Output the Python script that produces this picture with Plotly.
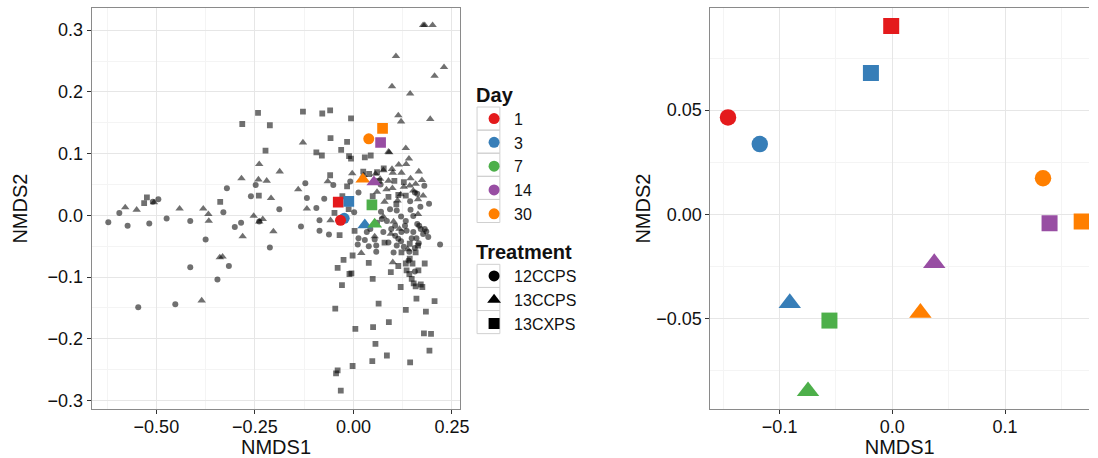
import plotly.graph_objects as go

# ---------------- data ----------------
DAYS = ["1", "3", "7", "14", "30"]
DAY_COLORS = ["#E41A1C", "#377EB8", "#4DAF4A", "#984EA3", "#FF7F00"]
TREATMENTS = ["12CCPS", "13CCPS", "13CXPS"]
TRT_SYMBOLS = ["circle", "triangle-up", "square"]

# individual samples (left panel), grey points
circ_x = [-0.622, -0.594, -0.573, -0.546, -0.518, -0.509, -0.495, -0.474, -0.452, -0.414, -0.414, -0.375,
          -0.345, -0.330, -0.321, -0.316, -0.301, -0.285, -0.260, -0.248, -0.239, -0.212, -0.188, -0.133,
          -0.122, -0.118, -0.094, -0.086, -0.086, -0.074, -0.062, -0.051, -0.008, 0.013, 0.002, 0.069,
          0.180, 0.156, 0.162, 0.144, 0.192, 0.170, 0.070, 0.093, 0.110, 0.121, 0.133, 0.145, 0.162, 0.167,
          0.171, 0.185, 0.190, 0.160, 0.152, 0.135, 0.122, 0.106, 0.096, 0.085, 0.072, 0.060, 0.043, 0.034,
          0.013, 0.011, 0.029, 0.039, 0.054, 0.058, 0.058, 0.089, 0.102, 0.110, 0.121, 0.128, 0.142, 0.156,
          0.166, 0.220, 0.106, 0.131, 0.152, 0.181, 0.148, 0.114, 0.177, 0.076, 0.140, 0.156]
circ_y = [-0.011, 0.004, -0.017, -0.149, -0.013, 0.022, 0.026, -0.005, -0.144, -0.009, -0.084, -0.039,
          -0.104, 0.005, 0.044, -0.082, -0.019, -0.012, 0.031, 0.049, -0.010, -0.052, 0.010, -0.018,
          0.052, 0.028, 0.012, -0.008, -0.025, 0.027, -0.031, 0.049, 0.055, 0.037, 0.005, 0.050,
          0.048, 0.037, 0.035, 0.023, 0.019, 0.014, 0.006, 0.010, 0.008, -0.002, -0.009, 0.009, -0.014, -0.017,
          -0.022, -0.026, -0.035, -0.037, -0.027, -0.025, -0.027, -0.033, -0.022, -0.009, -0.006, -0.012, -0.022, -0.027,
          -0.037, -0.047, -0.040, -0.050, -0.039, -0.049, -0.059, -0.044, -0.060, -0.049, -0.042, -0.051, -0.059, -0.053,
          -0.045, -0.047, -0.017, -0.017, -0.001, -0.022, -0.037, -0.038, -0.030, -0.027, -0.073, -0.091]

tri_x = [-0.579, -0.550, -0.506, -0.441, -0.381, -0.368, -0.367, -0.339, -0.332, -0.385, -0.284, -0.281,
         -0.253, -0.239, -0.241, -0.220, -0.230, -0.239, -0.209, -0.203, -0.187, -0.140, -0.128, -0.118,
         -0.065, -0.058, -0.003, 0.020, 0.177, 0.181, 0.201, 0.108, 0.230, 0.206, 0.098, 0.144, 0.114,
         0.121, 0.195, 0.133, 0.089, 0.091, 0.141, 0.134, 0.056, 0.076, 0.098, 0.115, 0.122, 0.100, 0.166,
         0.145, 0.158, 0.174, 0.143, 0.084, 0.099, 0.128, 0.060, 0.164, 0.112, 0.079, 0.102, 0.076, 0.095,
         0.117, 0.138, 0.100, 0.054, 0.026, 0.089, 0.068, 0.120, 0.152, 0.177, 0.164]
tri_y = [0.013, 0.009, 0.021, 0.011, 0.011, 0.002, -0.009, -0.068, -0.067, -0.138, 0.060, -0.034,
         -0.001, 0.083, 0.058, 0.056, -0.006, -0.010, 0.028, -0.026, 0.071, 0.042, 0.118, 0.011,
         0.055, -0.008, 0.068, -0.061, 0.308, 0.308, 0.308, 0.258, 0.240, 0.226, 0.209, 0.197, 0.162,
         0.152, 0.156, 0.109, 0.103, 0.102, 0.092, 0.083, 0.067, 0.073, 0.075, 0.082, 0.069, 0.069, 0.071,
         0.060, 0.051, 0.057, 0.048, 0.042, 0.044, 0.046, 0.038, 0.026, 0.024, 0.022, -0.010, -0.002, -0.030,
         -0.022, -0.055, -0.076, -0.034, 0.065, 0.056, 0.059, 0.034, 0.040, 0.032, 0.002]

sq_x = [-0.524, -0.531, -0.338, -0.282, -0.242, -0.212, -0.223, -0.240, -0.128, -0.079, -0.059, -0.058,
        -0.094, -0.080, -0.006, -0.016, -0.031, -0.011, -0.006, 0.029, 0.044, -0.059, -0.016, -0.048,
        -0.035, 0.003, -0.002, -0.025, -0.040, -0.010, -0.005, 0.039, -0.029, 0.049, -0.046, 0.064,
        0.133, 0.184, 0.206, 0.160, 0.090, 0.005, 0.050, 0.179, 0.197, 0.056, 0.193, 0.085, 0.048, 0.144,
        -0.002, -0.040, -0.044, -0.032, 0.079, 0.114, 0.095, 0.133, 0.135, 0.150, 0.142, 0.148, 0.165,
        0.181, 0.153, 0.158, 0.171, 0.175, 0.120, 0.060, 0.077, 0.025, 0.040, 0.104, 0.065, 0.114, 0.089,
        0.133, 0.109, 0.049, -0.028, 0.128, -0.012, 0.122, 0.158, 0.143, 0.164, 0.143]
sq_y = [0.029, 0.020, 0.022, 0.148, 0.166, 0.146, 0.105, 0.032, 0.168, 0.165, 0.170, 0.125,
        0.102, 0.097, 0.157, 0.119, 0.106, 0.096, 0.092, 0.094, 0.097, 0.065, 0.047, 0.004,
        -0.032, -0.025, -0.065, -0.072, -0.085, -0.095, -0.094, -0.077, -0.113, -0.103, -0.151, -0.143,
        -0.153, -0.156, -0.139, -0.135, -0.173, -0.184, -0.181, -0.191, -0.192, -0.208, -0.219, -0.227, -0.236, -0.238,
        -0.244, -0.251, -0.256, -0.284, -0.044, -0.082, -0.092, -0.078, -0.089, -0.078, -0.095, -0.103, -0.089,
        -0.078, -0.110, -0.115, -0.112, -0.116, -0.116, 0.070, 0.076, 0.071, 0.067, 0.056, 0.056, 0.033, 0.030,
        0.032, 0.018, 0.031, 0.031, 0.054, 0.010, -0.060, -0.060, -0.070, -0.049, -0.046]

# group centroids, left panel (drawing order)
left_day = ["30", "14", "30", "30", "14", "1", "3", "7", "3", "1", "3", "7"]
left_trt = ["13CXPS", "13CXPS", "12CCPS", "13CCPS", "13CCPS", "13CXPS", "13CXPS", "13CXPS",
            "12CCPS", "12CCPS", "13CCPS", "13CCPS"]
left_x = [0.074, 0.069, 0.039, 0.024, 0.052, -0.0385, -0.0116, 0.047, -0.0234, -0.0327, 0.029, 0.054]
left_y = [0.141, 0.118, 0.124, 0.0585, 0.054, 0.0215, 0.0226, 0.017, -0.0048, -0.0081, -0.0156, -0.0145]

# group centroids, right panel
right_day = ["1", "3", "1", "3", "30", "14", "30", "14", "30", "3", "7", "7"]
right_trt = ["13CXPS", "13CXPS", "12CCPS", "12CCPS", "12CCPS", "13CXPS", "13CXPS", "13CCPS",
             "13CCPS", "13CCPS", "13CXPS", "13CCPS"]
right_x = [-0.001, -0.019, -0.1458, -0.1176, 0.1337, 0.1395, 0.168, 0.0372, 0.0249, -0.091, -0.0558, -0.0748]
right_y = [0.0904, 0.0678, 0.0465, 0.0337, 0.0173, -0.0043, -0.0035, -0.0234, -0.0473, -0.0426, -0.051, -0.0849]

# ---------------- figure ----------------
FONT = "Liberation Sans, Arial, sans-serif"
GREY = "rgba(0,0,0,0.56)"
col = dict(zip(DAYS, DAY_COLORS))
sym = dict(zip(TREATMENTS, TRT_SYMBOLS))
W, H = 1098, 458

fig = go.Figure()

for xs, ys, s, sz in [(circ_x, circ_y, "circle", 6), (tri_x, tri_y, "triangle-up", 7.4),
                      (sq_x, sq_y, "square", 5.8)]:
    fig.add_trace(go.Scatter(x=xs, y=ys, mode="markers", showlegend=False, hoverinfo="skip",
                             marker=dict(symbol=s, size=sz, color=GREY, opacity=1, line=dict(width=0)),
                             xaxis="x", yaxis="y"))


def centroid_sizes(trts, base):
    out = []
    for t in trts:
        if t == "13CCPS":
            out.append(base * 1.18)
        elif t == "13CXPS":
            out.append(base * 0.97)
        else:
            out.append(base)
    return out


fig.add_trace(go.Scatter(x=left_x, y=left_y, mode="markers", showlegend=False,
                         marker=dict(symbol=[sym[t] for t in left_trt], color=[col[d] for d in left_day],
                                     size=centroid_sizes(left_trt, 11), opacity=1, line=dict(width=0)),
                         xaxis="x", yaxis="y"))
fig.add_trace(go.Scatter(x=right_x, y=right_y, mode="markers", showlegend=False,
                         marker=dict(symbol=[sym[t] for t in right_trt], color=[col[d] for d in right_day],
                                     size=centroid_sizes(right_trt, 16.5), opacity=1, line=dict(width=0)),
                         xaxis="x2", yaxis="y2"))

# legend entries
for d, c in zip(DAYS, DAY_COLORS):
    fig.add_trace(go.Scatter(x=[None], y=[None], mode="markers", name=d, legend="legend",
                             marker=dict(symbol="circle", size=11, color=c, opacity=1), xaxis="x", yaxis="y"))
for t, s in zip(TREATMENTS, TRT_SYMBOLS):
    fig.add_trace(go.Scatter(x=[None], y=[None], mode="markers", name=t, legend="legend2",
                             marker=dict(symbol=s, size=12 if s == "triangle-up" else 11, color="black",
                                         opacity=1), xaxis="x", yaxis="y"))


def axis_common(dtick, fmt, minor_dtick, title):
    return dict(
        showline=True, linecolor="#8a8a8a", linewidth=1,
        ticks="outside", ticklen=4, tickcolor="#333333", tickwidth=1,
        tickfont=dict(family=FONT, size=18, color="#111111"),
        showgrid=True, gridcolor="#e6e6e6", gridwidth=1.2,
        minor=dict(dtick=minor_dtick, tick0=0, showgrid=True, gridcolor="#f4f4f4", gridwidth=1),
        zeroline=False, dtick=dtick, tick0=0, tickformat=fmt,
        title=dict(text=title, font=dict(family=FONT, size=20, color="#111111"), standoff=2),
    )


xa = axis_common(0.25, ".2f", 0.125, "NMDS1")
xa.update(domain=[92.3 / W, 464.3 / W], range=[-0.6645, 0.2718], mirror=True, anchor="y",
          ticklabelstandoff=-3)
xa["title"]["standoff"] = 4
ya = axis_common(0.1, ".1f", 0.05, "NMDS2")
ya.update(domain=[(H - 410.7) / H, (H - 8.3) / H], range=[-0.3135, 0.3355], mirror=True, anchor="x")
ya["title"]["standoff"] = 14

xa2 = axis_common(0.1, ".1f", 0.05, "NMDS1")
xa2.update(domain=[716.3 / W, 1.0], range=[-0.1614, 0.1745], mirror=True, anchor="y2",
           ticklabelstandoff=-3)
xa2["title"]["standoff"] = 4
ya2 = axis_common(0.05, ".2f", 0.025, "NMDS2")
ya2.update(domain=[(H - 410.7) / H, (H - 8.3) / H], range=[-0.0934, 0.0989], mirror=False, anchor="x2")
ya2["title"]["standoff"] = 0

# legend key boxes (decoration, like ggplot's key background)
shapes = []
KEY_H = 23.2
for i in range(len(DAYS)):
    top = 107.5 + i * KEY_H
    shapes.append(dict(type="rect", xref="paper", yref="paper", x0=481 / W, x1=504 / W,
                       y0=(H - top - KEY_H) / H, y1=(H - top) / H,
                       line=dict(color="#d0d0d0", width=1), fillcolor="rgba(0,0,0,0)", layer="below"))
for i in range(len(TREATMENTS)):
    top = 265.5 + i * KEY_H
    shapes.append(dict(type="rect", xref="paper", yref="paper", x0=481 / W, x1=504 / W,
                       y0=(H - top - KEY_H) / H, y1=(H - top) / H,
                       line=dict(color="#d0d0d0", width=1), fillcolor="rgba(0,0,0,0)", layer="below"))

fig.update_layout(
    width=W, height=H, margin=dict(l=0, r=0, t=0, b=0),
    paper_bgcolor="white", plot_bgcolor="white",
    font=dict(family=FONT, color="#111111"),
    xaxis=xa, yaxis=ya, xaxis2=xa2, yaxis2=ya2,
    shapes=shapes,
    legend=dict(title=dict(text="<b>Day</b>", font=dict(size=20, family=FONT)),
                font=dict(size=16, family=FONT), x=478 / W, y=(H - 76) / H,
                xanchor="left", yanchor="top", itemsizing="trace", bgcolor="rgba(0,0,0,0)",
                tracegroupgap=0),
    legend2=dict(title=dict(text="<b>Treatment</b>", font=dict(size=20, family=FONT)),
                 font=dict(size=16, family=FONT), x=478 / W, y=(H - 234) / H,
                 xanchor="left", yanchor="top", itemsizing="trace", bgcolor="rgba(0,0,0,0)",
                 tracegroupgap=0),
)

fig.write_html("out.html")
